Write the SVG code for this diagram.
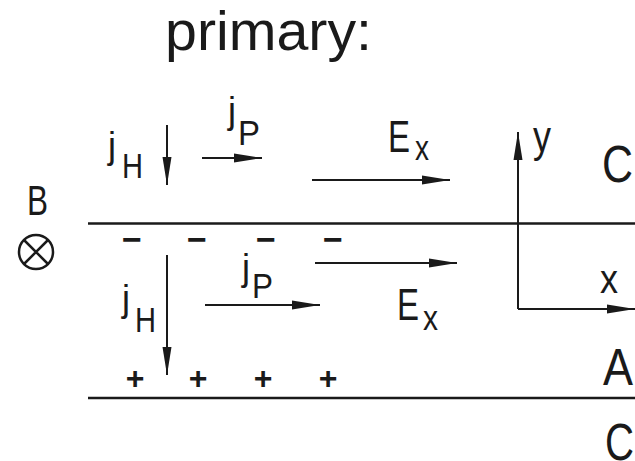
<svg xmlns="http://www.w3.org/2000/svg" width="635" height="461" viewBox="0 0 635 461">
<style>
text{font-family:"Liberation Sans",Arial,sans-serif;fill:#1a1a1a}
.ln{stroke:#1a1a1a;stroke-width:2.5;fill:none}
.ar{stroke:#1a1a1a;stroke-width:2;fill:none;marker-end:url(#ah)}
.j{font-size:36px}
.s{font-size:35px}
.E{font-size:45px}
.big{font-size:51px}
.ch{font-weight:bold}
</style>
<defs>
<marker id="ah" markerUnits="userSpaceOnUse" markerWidth="30" markerHeight="12" refX="28" refY="5" orient="auto">
<path d="M0,0.5 L28,5 L0,9.5 Z" fill="#1a1a1a"/>
</marker>
</defs>
<rect width="635" height="461" fill="#fff"/>
<g id="title"><text x="165" y="50" font-size="56" textLength="207" lengthAdjust="spacingAndGlyphs">primary:</text></g>
<g id="B-field">
<text x="27" y="215" font-size="42" textLength="21" lengthAdjust="spacingAndGlyphs">B</text>
<circle cx="36" cy="252" r="17" class="ln"/>
<path d="M24,240 L48,264 M48,240 L24,264" class="ln"/>
</g>
<g id="layers">
<line x1="88" y1="223.5" x2="635" y2="223.5" class="ln"/>
<line x1="88" y1="398" x2="635" y2="398" class="ln"/>
</g>
<g id="label-C-top"><text x="602" y="182" class="big" textLength="31" lengthAdjust="spacingAndGlyphs">C</text></g>
<g id="label-A"><text x="603" y="385" class="big" textLength="30" lengthAdjust="spacingAndGlyphs">A</text></g>
<g id="label-C-bottom"><text x="605" y="460" class="big" textLength="29" lengthAdjust="spacingAndGlyphs">C</text></g>
<g id="jH-top"><text x="108" y="158" class="j">j</text><text x="122" y="178" class="s" textLength="21" lengthAdjust="spacingAndGlyphs">H</text></g>
<g id="jP-top"><text x="228" y="123" class="j">j</text><text x="238" y="145" class="s" textLength="22" lengthAdjust="spacingAndGlyphs">P</text></g>
<g id="Ex-top"><text x="388" y="152" class="E" textLength="22" lengthAdjust="spacingAndGlyphs">E</text><text x="415" y="160" class="s" textLength="14" lengthAdjust="spacingAndGlyphs">x</text></g>
<g id="jH-bottom"><text x="122" y="311" class="j">j</text><text x="135" y="332" class="s" textLength="21" lengthAdjust="spacingAndGlyphs">H</text></g>
<g id="jP-bottom"><text x="242" y="280" class="j">j</text><text x="252" y="298" class="s" textLength="21" lengthAdjust="spacingAndGlyphs">P</text></g>
<g id="Ex-bottom"><text x="397" y="320" class="E" textLength="22" lengthAdjust="spacingAndGlyphs">E</text><text x="423" y="330" class="s" textLength="15" lengthAdjust="spacingAndGlyphs">x</text></g>
<g id="axis-labels"><text x="533" y="152" font-size="44" textLength="18" lengthAdjust="spacingAndGlyphs">y</text><text x="600" y="293" font-size="40" textLength="18" lengthAdjust="spacingAndGlyphs">x</text></g>
<g id="charges-minus" class="ch" font-size="34" text-anchor="middle">
<text x="132" y="251">−</text><text x="197" y="251">−</text><text x="266" y="251">−</text><text x="333" y="251">−</text>
</g>
<g id="charges-plus" class="ch" font-size="32" text-anchor="middle">
<text x="135" y="389">+</text><text x="198" y="389">+</text><text x="263" y="389">+</text><text x="328" y="389">+</text>
</g>
<g id="connectors">
<line x1="167" y1="125" x2="167" y2="185" class="ar" stroke-width="2.5"/>
<line x1="202" y1="158" x2="262" y2="158" class="ar"/>
<line x1="312" y1="180" x2="450" y2="180" class="ar"/>
<line x1="315" y1="263" x2="457" y2="263" class="ar"/>
<line x1="167" y1="255" x2="167" y2="375" class="ar" stroke-width="3"/>
<line x1="205" y1="305" x2="320" y2="305" class="ar"/>
<path d="M518,309 L518,132" class="ar" stroke-width="2.5"/>
<path d="M518,309 L635,309" class="ar"/>
</g>
</svg>
